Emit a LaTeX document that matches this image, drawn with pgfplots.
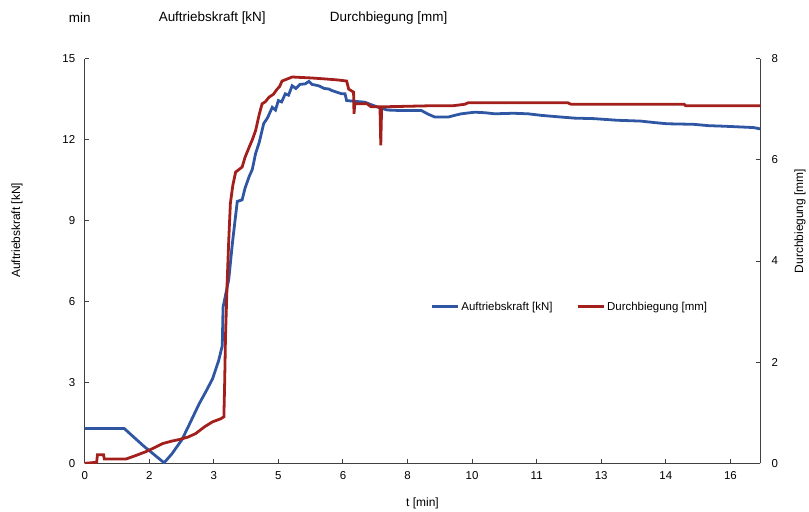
\documentclass[border=0pt]{standalone}
\usepackage{fontspec}
\setmainfont{Liberation Sans}
\usepackage{pgfplots}
\pgfplotsset{compat=1.18}
\definecolor{cblue}{RGB}{47,86,162}
\definecolor{cred}{RGB}{163,31,28}
\definecolor{caxis}{RGB}{64,64,64}

\begin{document}
\begin{tikzpicture}
\pgfplotsset{
  common/.style={
    scale only axis, width=678pt, height=406pt,
    xmin=0, xmax=16.74,
    ymin=0,
    tick align=inside,
    major tick length=4pt,
    axis line style={caxis, line width=1pt},
    tick style={caxis, line width=1pt},
    tick label style={font=\fontsize{11.5}{13}\selectfont, text=black},
    /pgf/number format/assume math mode=true,
    label style={font=\fontsize{12}{14}\selectfont},
  }
}
\begin{axis}[common,
  axis x line*=bottom, axis y line*=left,
  ymax=15, ytick={0,3,...,15},
  xtick={0,1.6,3.2,4.8,6.4,8,9.6,11.2,12.8,14.4,16},
  xticklabels={0,2,3,5,6,8,10,11,13,14,16},
  xticklabel style={yshift=-5pt},
  yticklabel style={xshift=-6pt},
  xlabel={t [min]}, ylabel={Auftriebskraft [kN]},
  xlabel style={at={(axis description cs:0.5,-0.098)}, anchor=center},
  ylabel style={at={(axis description cs:-0.100,0.576)}, anchor=center},
]
\addplot[cblue, line width=2.8pt] coordinates {
(0,1.29) (0.981,1.29) (1.454,0.65) (1.968,0.02) (2.160,0.35) (2.411,0.88) (2.583,1.41)
(2.834,2.2) (2.996,2.64) (3.167,3.13) (3.318,3.8) (3.409,4.36) (3.429,5.79) (3.570,6.82)
(3.661,8.17) (3.741,9.2) (3.781,9.71) (3.902,9.77) (3.973,10.2) (4.074,10.63) (4.154,10.9)
(4.235,11.49) (4.325,11.9) (4.436,12.6) (4.527,12.8) (4.648,13.2) (4.728,13.1) (4.799,13.45)
(4.880,13.4) (4.970,13.7) (5.051,13.65) (5.141,14.0) (5.232,13.9) (5.333,14.05) (5.464,14.07)
(5.555,14.16) (5.635,14.05) (5.796,14.0) (5.937,13.9) (6.048,13.88) (6.129,13.82) (6.370,13.7)
(6.451,13.7) (6.491,13.45) (6.945,13.39) (7.096,13.3) (7.277,13.2) (7.499,13.1) (7.851,13.08)
(8.345,13.08) (8.506,12.95) (8.677,12.84) (9.010,12.84) (9.161,12.9) (9.332,12.96) (9.665,13.02)
(9.917,13.0) (10.158,12.96) (10.622,12.98) (10.984,12.96) (11.327,12.9) (11.800,12.84)
(12.133,12.8) (12.626,12.78) (13.200,12.72) (13.775,12.69) (14.148,12.63) (14.440,12.59)
(15.095,12.57) (15.457,12.52) (15.840,12.5) (16.575,12.45) (16.74,12.4)
};
\end{axis}
\begin{axis}[common,
  axis x line=none, axis y line*=right,
  ymax=8, ytick={0,2,...,8},
  yticklabel style={xshift=8pt},
  ylabel={Durchbiegung [mm]},
  ylabel style={at={(axis description cs:1.059,0.599)}, anchor=center},
  legend columns=2,
  legend style={at={(axis description cs:0.512,0.387)}, anchor=west, draw=none, fill=none,
    inner sep=0pt, font=\fontsize{11.5}{13}\selectfont,
    /tikz/every even column/.append style={column sep=22pt}},
  legend image code/.code={\draw[#1] (0pt,0pt) -- (26pt,0pt);},
]
\addlegendimage{cblue, line width=2.8pt}
\addlegendentry{Auftriebskraft [kN]}
\addplot[cred, line width=2.8pt] coordinates {
(0,0) (0.296,0.02) (0.316,0.17) (0.467,0.17) (0.487,0.085) (1.021,0.085) (1.253,0.15)
(1.515,0.23) (1.757,0.32) (1.928,0.39) (2.160,0.44) (2.341,0.47) (2.563,0.52) (2.754,0.59)
(2.965,0.72) (3.167,0.82) (3.368,0.88) (3.449,0.92) (3.469,1.61) (3.489,2.5) (3.530,3.57)
(3.570,4.42) (3.610,5.14) (3.671,5.5) (3.741,5.76) (3.902,5.86) (3.973,6.05) (4.074,6.25)
(4.154,6.4) (4.235,6.58) (4.325,6.9) (4.396,7.11) (4.476,7.15) (4.567,7.24) (4.678,7.3)
(4.769,7.4) (4.829,7.45) (4.890,7.56) (5.141,7.64) (5.383,7.63) (5.635,7.62) (5.988,7.60)
(6.290,7.58) (6.491,7.56) (6.542,7.40) (6.663,7.34) (6.673,6.91) (6.693,7.11) (6.995,7.11)
(7.096,7.05) (7.317,7.05) (7.337,6.29) (7.358,7.05) (8.516,7.07) (9.111,7.07) (9.413,7.10)
(9.503,7.13) (11.971,7.13) (12.052,7.10) (14.853,7.10) (14.893,7.07) (16.74,7.07)
};
\addlegendentry{Durchbiegung [mm]}
\end{axis}
\begin{scope}[every node/.style={font=\fontsize{13.5}{16}\selectfont, anchor=center}]
\node at (-5pt,447pt) {min};
\node at (128pt,447pt) {Auftriebskraft [kN]};
\node at (305pt,447pt) {Durchbiegung [mm]};
\end{scope}
\path[use as bounding box] (-85pt,-45pt) rectangle (724pt,465pt);
\end{tikzpicture}
\end{document}
